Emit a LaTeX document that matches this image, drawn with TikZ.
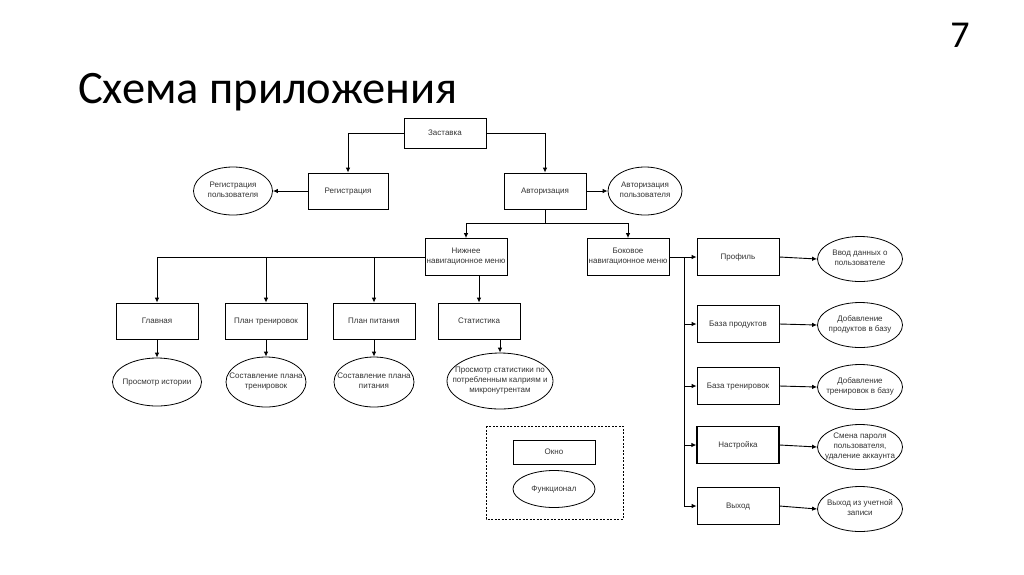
\documentclass[tikz,border=0pt]{standalone}
\usepackage{fontspec}
\setmainfont{Liberation Sans}
\newfontfamily\titlefont{Carlito}
\usetikzlibrary{shapes.geometric, arrows.meta}

\begin{document}
\begin{tikzpicture}[x=1pt, y=-1pt, >={Latex[length=5pt,width=4.5pt]},
    box/.style={draw, line width=0.8pt, minimum width=82pt, minimum height=36pt,
        inner sep=1pt, align=center, text=black!80,
        font=\fontsize{8}{10}\selectfont,
        execute at begin node=\strut, execute at end node=\strut},
    oval/.style={draw, ellipse, line width=0.8pt, minimum width=85pt, minimum height=45pt,
        inner xsep=-20pt, inner ysep=0pt, align=center, text=black!80,
        font=\fontsize{8}{10}\selectfont,
        execute at begin node=\strut, execute at end node=\strut},
    arr/.style={->, line width=0.9pt},
    line/.style={line width=0.9pt}]
    \useasboundingbox (0,0) rectangle (1024,574);

    % 1. Заголовок
    \node[anchor=base west, inner sep=0pt, font=\titlefont\fontsize{46.5}{46.5}\selectfont] (title) at (78,103) {Схема приложения};
    \node[anchor=base, font=\titlefont\fontsize{38}{38}\selectfont] (num) at (960,47) {7};

    % 2. Верхний уровень
    \node[box, minimum height=30pt] (zast) at (445,133) {Заставка};
    \node[box, minimum width=80pt] (reg) at (348,191) {Регистрация};
    \node[box] (avt) at (545,191) {Авторизация};
    \node[oval, minimum width=79pt, minimum height=48pt] (regU) at (233,191) {Регистрация\\пользователя};
    \node[oval, minimum width=74pt, minimum height=48pt] (avtU) at (645,191) {Авторизация\\пользователя};

    \draw[arr] (zast.west) -| (reg.north);
    \draw[arr] (zast.east) -| (avt.north);
    \draw[arr] (reg.west) -- (regU.east);
    \draw[arr] (avt.east) -- (avtU.west);

    % 3. Меню
    \node[box, minimum height=37pt] (niz) at (466,257) {Нижнее\\навигационное меню};
    \node[box, minimum height=37pt] (bok) at (628,257) {Боковое\\навигационное меню};
    \coordinate (splitY) at (0,223);
    \draw[arr] (avt.south) -- (avt.south |- splitY) -| (niz.north);
    \draw[arr] (avt.south |- splitY) -| (bok.north);

    % 4. Нижнее меню
    \node[box] (glav) at (157,321) {Главная};
    \node[box] (trPlan) at (266,321) {План тренировок};
    \node[box] (pitPlan) at (374,321) {План питания};
    \node[box] (stat) at (479,321) {Статистика};
    \node[oval, minimum width=89pt, minimum height=48pt] (hist) at (157,382) {Просмотр истории};
    \node[oval, minimum width=80pt, minimum height=50pt] (trSost) at (266,382) {Составление плана\\тренировок};
    \node[oval, minimum width=80pt, minimum height=50pt] (pitSost) at (374,382) {Составление плана\\питания};
    \node[oval, minimum width=106pt, minimum height=56pt] (statView) at (500,381) {Просмотр статистики по\\потребленным калриям и\\микронутрентам};

    \draw[arr] (niz.west) -| (glav.north);
    \draw[arr] (niz.west -| trPlan.north) -- (trPlan.north);
    \draw[arr] (niz.west -| pitPlan.north) -- (pitPlan.north);
    \draw[arr] (niz.south -| stat.north) -- (stat.north);
    \draw[arr] (glav.south) -- (hist.north);
    \draw[arr] (trPlan.south) -- (trSost.north);
    \draw[arr] (pitPlan.south) -- (pitSost.north);
    \draw[arr] (statView.north |- stat.south) -- (statView.north);

    % 5. Боковое меню
    \node[box, minimum height=37pt] (prof) at (738,257) {Профиль};
    \node[box, minimum height=37pt] (bprod) at (738,324) {База продуктов};
    \node[box, minimum height=37pt] (btren) at (738,386) {База тренировок};
    \node[box, minimum height=37pt, line width=1.3pt] (nastr) at (738,445) {Настройка};
    \node[box, minimum height=37pt] (vyh) at (738,506) {Выход};
    \node[oval] (profU) at (860,259) {Ввод данных о\\пользователе};
    \node[oval] (bprodU) at (860,325) {Добавление\\продуктов в базу};
    \node[oval] (btrenU) at (860,387) {Добавление\\тренировок в базу};
    \node[oval] (nastrU) at (860,447) {Смена пароля\\пользователя,\\удаление аккаунта};
    \node[oval] (vyhU) at (860,509) {Выход из учетной\\записи};

    \coordinate (trunk) at (684,0);
    \draw[line] (bok.east) -- (bok.east -| trunk) -- (vyh.west -| trunk);
    \foreach \n in {prof, bprod, btren, nastr, vyh}
        \draw[arr] (\n.west -| trunk) -- (\n.west);
    \foreach \a/\b in {prof/profU, bprod/bprodU, btren/btrenU, nastr/nastrU, vyh/vyhU}
        \draw[arr] (\a.east) -- (\b.west);

    % 6. Легенда
    \draw[line width=0.7pt, dash pattern=on 2pt off 1.5pt] (486,426) rectangle (623,519);
    \node[box, minimum height=24pt] (okno) at (554,452) {Окно};
    \node[oval, minimum width=82pt, minimum height=37pt] (func) at (554,489) {Функционал};
\end{tikzpicture}
\end{document}
